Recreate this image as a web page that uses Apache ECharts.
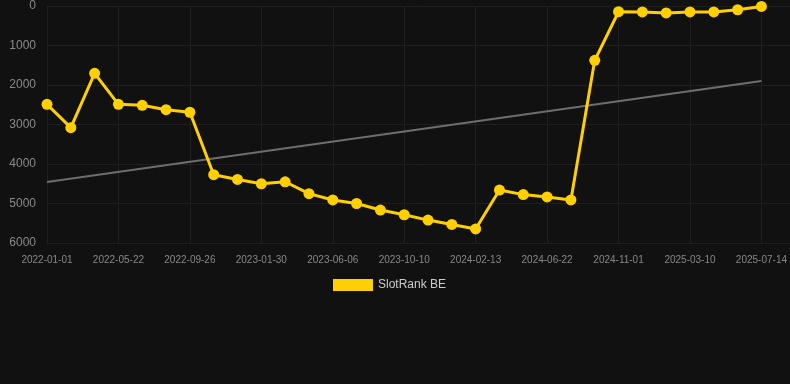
<!DOCTYPE html>
<html>
<head>
<meta charset="utf-8">
<script src="https://cdn.jsdelivr.net/npm/echarts@6/dist/echarts.min.js"></script>
<style>
  html, body { margin: 0; padding: 0; background: #111111; }
  #chart { width: 790px; height: 384px; }
</style>
</head>
<body>
<div id="chart"></div>
<script>
var tickLabels = ['2022-01-01', '2022-05-22', '2022-09-26', '2023-01-30', '2023-06-06', '2023-10-10',
  '2024-02-13', '2024-06-22', '2024-11-01', '2025-03-10', '2025-07-14'];
var rankValues = [2490, 3080, 1705, 2490, 2515, 2625, 2690, 4270, 4390, 4500,
  4450, 4750, 4910, 5000, 5165, 5285, 5420, 5530, 5645, 4660,
  4775, 4835, 4910, 1375, 145, 150, 175, 150, 150, 95, 10];
var trendStart = 4455;
var trendEnd = 1900;

(function () {
  var chart = echarts.init(document.getElementById('chart'), null, { renderer: 'canvas' });
  var mainData = rankValues.map(function (v, i) { return [i, v]; });
  var trendData = [[0, trendStart], [rankValues.length - 1, trendEnd]];
  var gridColor = '#1f1f1f';

  chart.setOption({
    backgroundColor: '#111111',
    animation: false,
    legend: {
      top: 274,
      left: 328,
      icon: 'rect',
      itemWidth: 40,
      itemHeight: 12,
      itemGap: 10,
      data: ['SlotRank BE'],
      textStyle: { color: '#cccccc', fontSize: 12 }
    },
    grid: { left: 47, right: 0, top: 6, bottom: 141 },
    xAxis: {
      type: 'value',
      min: 0,
      max: 31.2,
      interval: 3,
      axisLine: { show: false },
      axisTick: { show: false },
      axisLabel: {
        color: '#888888',
        fontSize: 10,
        margin: 12,
        showMaxLabel: false,
        formatter: function (v) { return tickLabels[v / 3] || ''; }
      },
      splitLine: { show: true, lineStyle: { color: gridColor, width: 1 } }
    },
    yAxis: {
      type: 'value',
      inverse: true,
      min: 0,
      max: 6000,
      interval: 1000,
      axisLine: { show: false },
      axisTick: { show: false },
      axisLabel: {
        color: '#8a8a8a',
        fontSize: 12,
        margin: 11,
        formatter: function (v) { return String(v); }
      },
      splitLine: { lineStyle: { color: gridColor, width: 1 } }
    },
    series: [
      {
        name: 'Trend',
        type: 'line',
        data: trendData,
        symbol: 'none',
        lineStyle: { color: '#6e6e6e', width: 2 },
        z: 1
      },
      {
        name: 'SlotRank BE',
        type: 'line',
        data: mainData,
        symbol: 'circle',
        symbolSize: 11,
        lineStyle: { color: '#ffd000', width: 3 },
        itemStyle: { color: '#ffd000' },
        z: 2
      }
    ]
  });
})();
</script>
</body>
</html>
